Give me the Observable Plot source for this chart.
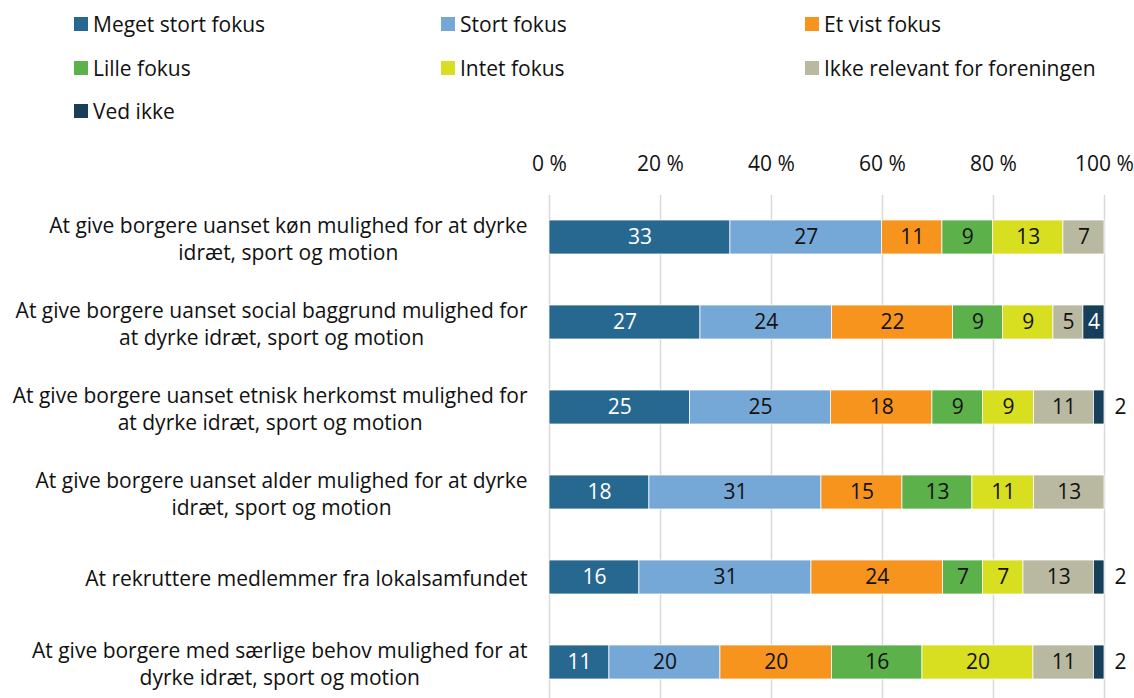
<!DOCTYPE html>
<html>
<head>
<meta charset="utf-8">
<script src="https://cdn.jsdelivr.net/npm/d3@7"></script>
<script src="https://cdn.jsdelivr.net/npm/@observablehq/plot@0.6"></script>
<style>
  html, body { margin: 0; padding: 0; background: #fff; }
  body { width: 1134px; height: 698px; overflow: hidden; font-family: "Open Sans", sans-serif; }
  #legend { position: relative; height: 124px; }
  .item { position: absolute; display: flex; align-items: center; font-size: 21px; color: #111; transform: translateY(-50%); white-space: nowrap; }
  .sw { width: 14px; height: 14px; margin-right: 5px; display: inline-block; }
</style>
</head>
<body>
<div id="legend"></div>
<div id="chart"></div>
<script>
const categories = [
  "At give borgere uanset køn mulighed for at dyrke\nidræt, sport og motion",
  "At give borgere uanset social baggrund mulighed for\nat dyrke idræt, sport og motion",
  "At give borgere uanset etnisk herkomst mulighed for\nat dyrke idræt, sport og motion",
  "At give borgere uanset alder mulighed for at dyrke\nidræt, sport og motion",
  "At rekruttere medlemmer fra lokalsamfundet",
  "At give borgere med særlige behov mulighed for at\ndyrke idræt, sport og motion"
];
const series = ["Meget stort fokus", "Stort fokus", "Et vist fokus", "Lille fokus", "Intet fokus", "Ikke relevant for foreningen", "Ved ikke"];
const colors = ["#276891", "#75A8D6", "#F7941E", "#5DB14A", "#D8DE20", "#B9B9A1", "#173F5A"];
const whiteTextSeries = ["Meget stort fokus", "Ved ikke"];

const megetStort = [32.6, 27.2, 25.3, 18.0, 16.2, 10.8];
const stort      = [27.3, 23.7, 25.4, 31.0, 31.0, 20.0];
const etVist     = [10.9, 21.8, 18.3, 14.6, 23.7, 20.1];
const lille      = [9.1, 9.0, 9.1, 12.6, 7.2, 16.3];
const intet      = [12.7, 9.1, 9.2, 11.1, 7.3, 20.0];
const ikkeRel    = [7.4, 5.4, 10.8, 12.7, 12.7, 10.9];
const vedIkke    = [0, 3.8, 1.9, 0, 1.9, 1.9];
const seriesValues = [megetStort, stort, etVist, lille, intet, ikkeRel, vedIkke];

const xTicks = [0, 20, 40, 60, 80, 100];

const rows = categories.flatMap((c, i) =>
  series.map((s, j) => ({category: c, series: s, value: seriesValues[j][i]}))
).filter(d => d.value > 0);

const isOutside = d => d.series === "Ved ikke" && d.value < 3;
const fmt = v => String(Math.round(v));

// Legend
const legendPos = [[74, 24], [441, 24], [805, 24], [74, 68], [441, 68], [805, 68], [74, 111]];
const legend = document.getElementById("legend");
series.forEach((s, i) => {
  const el = document.createElement("div");
  el.className = "item";
  el.style.left = legendPos[i][0] + "px";
  el.style.top = legendPos[i][1] + "px";
  el.innerHTML = `<span class="sw" style="background:${colors[i]}"></span><span>${s}</span>`;
  legend.appendChild(el);
});

// Measure label widths for centered multi-line block labels
const FS = 21;
const ctx = document.createElement("canvas").getContext("2d");
ctx.font = `${FS}px "Open Sans"`;
const blockWidth = c => d3.max(c.split("\n"), l => ctx.measureText(l).width);

const labelMarks = categories.map(c =>
  Plot.text([c], {
    x: () => 0, y: d => d, text: d => d,
    textAnchor: "middle", lineHeight: 1.29, fontSize: FS, fill: "#111",
    dx: -(22 + blockWidth(c) / 2)
  })
);

const chart = Plot.plot({
  width: 1134,
  height: 581,
  marginLeft: 549,
  marginRight: 30,
  marginTop: 71,
  marginBottom: 0,
  style: {fontFamily: "'Open Sans', sans-serif", fontSize: FS + "px", background: "white", color: "#111"},
  x: {domain: [0, 100], ticks: xTicks, label: null},
  y: {domain: categories, paddingInner: 0.6, paddingOuter: 0.3, axis: null},
  color: {domain: series, range: colors},
  marks: [
    Plot.gridX(xTicks, {stroke: "#d9d9d9", strokeOpacity: 1, strokeWidth: 1.5}),
    Plot.axisX(xTicks, {anchor: "top", label: null, tickSize: 0, tickPadding: 25, fontSize: FS, tickFormat: d => d + " %", fill: "#111"}),
    Plot.barX(rows, Plot.stackX({x: "value", y: "category", fill: "series", order: series, stroke: "white", strokeWidth: 0.75})),
    Plot.text(rows, Plot.stackX({
      x: "value", y: "category", z: "series", order: series,
      text: d => isOutside(d) ? null : fmt(d.value),
      fill: d => whiteTextSeries.includes(d.series) ? "white" : "#111",
      fontSize: FS
    })),
    Plot.text(rows.filter(isOutside), {x: () => 100, y: "category", text: d => fmt(d.value), textAnchor: "start", dx: 10, fontSize: FS, fill: "#111"}),
    ...labelMarks
  ]
});
document.getElementById("chart").appendChild(chart);
</script>
</body>
</html>
